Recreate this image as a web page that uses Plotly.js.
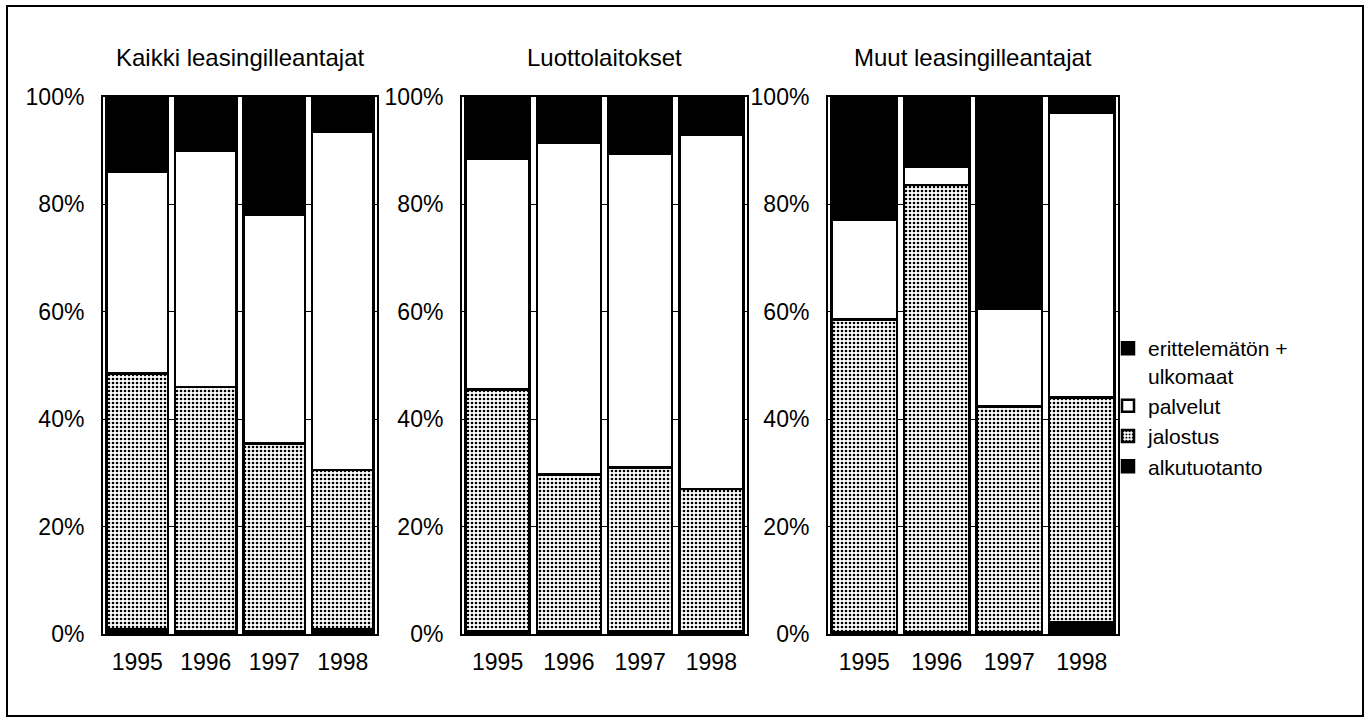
<!DOCTYPE html>
<html>
<head>
<meta charset="utf-8">
<script src="https://cdn.plot.ly/plotly-3.0.1.min.js"></script>
<style>html,body{margin:0;padding:0;background:#fff;}#chart{width:1371px;height:718px;}</style>
</head>
<body>
<div id="chart"></div>
<script>
// Categories
const years = ['1995', '1996', '1997', '1998'];
const panelTitles = ['Kaikki leasingilleantajat', 'Luottolaitokset', 'Muut leasingilleantajat'];
const seriesNames = ['alkutuotanto', 'jalostus', 'palvelut', 'erittelemätön +<br>ulkomaat'];
const yTickVals = [0, 20, 40, 60, 80, 100];
const yTickText = ['0%', '20%', '40%', '60%', '80%', '100%'];

// Kaikki leasingilleantajat (% shares)
const kaikkiAlku = [0.8, 0.6, 0.6, 0.8];
const kaikkiJalostus = [47.7, 45.4, 34.9, 29.7];
const kaikkiPalvelut = [37.5, 44.0, 42.5, 63.0];
const kaikkiErit = [14.0, 10.0, 22.0, 6.5];

// Luottolaitokset
const luottoAlku = [0.5, 0.5, 0.5, 0.5];
const luottoJalostus = [45.0, 29.2, 30.5, 26.5];
const luottoPalvelut = [43.0, 61.8, 58.5, 66.0];
const luottoErit = [11.5, 8.5, 10.5, 7.0];

// Muut leasingilleantajat
const muutAlku = [0.3, 0.3, 0.3, 2.2];
const muutJalostus = [58.3, 83.3, 42.1, 41.8];
const muutPalvelut = [18.6, 3.4, 18.2, 53.0];
const muutErit = [22.8, 13.0, 39.4, 3.0];

const panels = [
  [kaikkiAlku, kaikkiJalostus, kaikkiPalvelut, kaikkiErit],
  [luottoAlku, luottoJalostus, luottoPalvelut, luottoErit],
  [muutAlku, muutJalostus, muutPalvelut, muutErit]
];

const FONT = 'Liberation Sans, Arial, Helvetica, sans-serif';
const styles = [
  {color: 'black'},
  {color: 'white', pattern: {shape: '.', fgcolor: 'black', bgcolor: 'white', size: 4, solidity: 0.35}},
  {color: 'white'},
  {color: 'black'}
];

const traces = [];
panels.forEach((series, p) => {
  const ax = p === 0 ? '' : String(p + 1);
  series.forEach((vals, s) => {
    const m = Object.assign({line: {color: 'black', width: 2.5}}, styles[s]);
    traces.push({
      type: 'bar', x: years, y: vals, name: seriesNames[s],
      xaxis: 'x' + ax, yaxis: 'y' + ax,
      marker: m, showlegend: p === 0, legendgroup: seriesNames[s],
      hoverinfo: 'skip'
    });
  });
});

const xDomains = [[103/1371, 377/1371], [462/1371, 747/1371], [828/1371, 1118/1371]];
const yDomain = [1 - 634/718, 1 - 97/718];

const layout = {
  width: 1371, height: 718,
  margin: {l: 0, r: 0, t: 0, b: 0},
  paper_bgcolor: 'white', plot_bgcolor: 'white',
  barmode: 'stack', bargap: 0.1,
  font: {family: FONT, color: 'black', size: 22},
  showlegend: true,
  legend: {
    x: 1108/1371, xanchor: 'left', y: 1 - 328/718, yanchor: 'top',
    traceorder: 'reversed', valign: 'top', tracegroupgap: 0,
    font: {family: FONT, size: 21, color: 'black'},
    bgcolor: 'rgba(0,0,0,0)', itemwidth: 30
  },
  annotations: panelTitles.map((t, i) => ({
    text: t, x: (xDomains[i][0] + xDomains[i][1]) / 2, y: 1 - 57/718, xref: 'paper', yref: 'paper',
    xanchor: 'center', yanchor: 'middle', showarrow: false,
    font: {family: FONT, size: 24, color: 'black'}
  })),
  shapes: [
    {type: 'rect', xref: 'paper', yref: 'paper', x0: 7/1371, x1: 1363/1371, y0: 1 - 716/718, y1: 1 - 6/718,
     line: {color: 'black', width: 2}, fillcolor: 'rgba(0,0,0,0)', layer: 'below'}
  ]
};

for (let p = 0; p < 3; p++) {
  const ax = p === 0 ? '' : String(p + 1);
  layout['xaxis' + ax] = {
    domain: xDomains[p], anchor: 'y' + ax, type: 'category',
    showline: true, linecolor: 'black', linewidth: 2, mirror: true,
    showgrid: false, ticks: '', ticklabelstandoff: 6,
    tickfont: {family: FONT, size: 23, color: 'black'}, fixedrange: true
  };
  layout['yaxis' + ax] = {
    domain: yDomain, anchor: 'x' + ax, range: [0, 100],
    tickvals: yTickVals, ticktext: yTickText,
    showline: true, linecolor: 'black', linewidth: 2, mirror: true,
    showgrid: true, gridcolor: 'black', gridwidth: 1, zeroline: false,
    ticks: '', ticklabelstandoff: 12,
    tickfont: {family: FONT, size: 23, color: 'black'}, fixedrange: true
  };
}

Plotly.newPlot('chart', traces, layout, {displayModeBar: false, staticPlot: true});
</script>
</body>
</html>
